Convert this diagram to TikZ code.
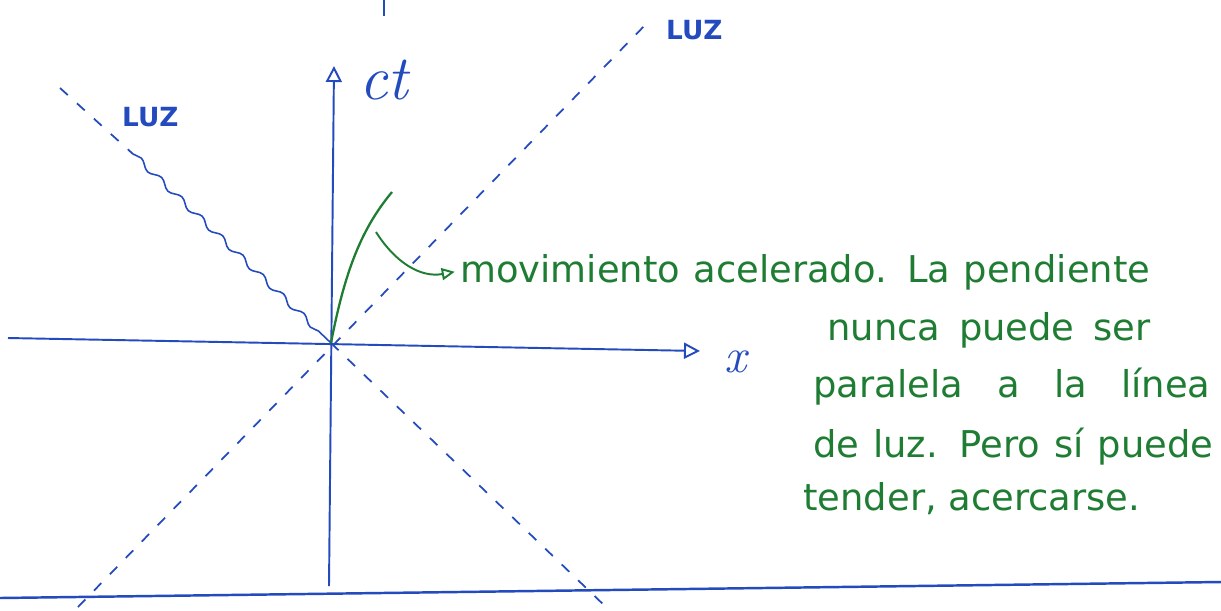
\documentclass[tikz,border=0pt]{standalone}
\usepackage{fontspec}
\usepackage{tikz}
\usetikzlibrary{arrows.meta,positioning,decorations.pathmorphing}
\newfontfamily\handfont{DejaVu Sans}
\definecolor{penblue}{RGB}{35,75,190}
\definecolor{pengreen}{RGB}{30,125,50}

\begin{document}
\begin{tikzpicture}[
    x=0.02cm, y=-0.02cm,
    axis/.style={penblue, line width=1.1pt, -{Triangle[open, length=3.2mm, width=3.2mm]}},
    lightline/.style={penblue, line width=1pt, dash pattern=on 6pt off 7pt},
    wavyline/.style={penblue, line width=0.9pt, decorate, decoration={snake, amplitude=1.6pt, segment length=16pt, post length=6pt}},
    worldline/.style={pengreen, line width=1.3pt},
    pointer/.style={pengreen, line width=1.1pt, -{Triangle[open, length=2.6mm, width=2.4mm]}},
    luzlabel/.style={penblue, font=\handfont\bfseries\fontsize{15}{17}\selectfont},
    note/.style={pengreen, font=\handfont\fontsize{21}{25}\selectfont, anchor=base west, inner sep=0pt},
  ]
    \useasboundingbox (0,0) rectangle (1221,610);
    % edges of the sheet
    \coordinate (topA) at (384,0);
    \coordinate (topB) at (384,16);
    \coordinate (rule0) at (0,598);
    \coordinate (rule1) at (1221,582);
    \draw[penblue, line width=1.1pt] (topA) -- (topB);
    \draw[penblue, line width=1.4pt] (rule0) -- (rule1);
    % axes
    \coordinate (O) at (331,343);
    \coordinate (ctfoot) at (329,586);
    \coordinate (cttip) at (334,66);
    \coordinate (xfoot) at (8,338);
    \coordinate (xtip) at (700,351);
    \draw[axis] (ctfoot) -- (cttip);
    \draw[axis] (xfoot) -- (xtip);
    \node[penblue, font=\itshape\fontsize{36}{36}\selectfont] (ctlab) at (384,80) {ct};
    \node[penblue, font=\itshape\fontsize{28}{28}\selectfont] (xlab) at (736,362) {x};
    % light lines
    \coordinate (rayA0) at (78,607);
    \coordinate (rayA1) at (650,20);
    \draw[lightline] (rayA0) -- (rayA1);
    \node[luzlabel, anchor=west] (luzA) at (660,30) {LUZ};
    \coordinate (rayB0) at (60,88);
    \coordinate (rayB1) at (133,154);
    \coordinate (rayB2) at (606,607);
    \draw[lightline] (rayB0) -- (rayB1);
    \draw[wavyline] (rayB1) -- (O);
    \draw[lightline] (O) -- (rayB2);
    \node[luzlabel, anchor=west] (luzB) at (116,117) {LUZ};
    % accelerated motion
    \coordinate (wlend) at (392,192);
    \draw[worldline] (O) .. controls (345,270) and (362,228) .. (wlend);
    \coordinate (pointfrom) at (376,232);
    \node[note] (line1) at (460,282) {\makebox[13.8cm][s]{movimiento acelerado. La pendiente}};
    \node[note] (line2) at (827,340) {\makebox[6.46cm][s]{nunca puede ser}};
    \node[note] (line3) at (813,397) {\makebox[7.94cm][s]{paralela a la línea}};
    \node[note] (line4) at (813,457) {\makebox[8cm][s]{de luz. Pero sí puede}};
    \node[note] (line5) at (803,510) {tender, acercarse.};
    \draw[pointer] (pointfrom) .. controls (395,262) and (420,278) .. ([xshift=-3pt]line1.west);
\end{tikzpicture}
\end{document}
